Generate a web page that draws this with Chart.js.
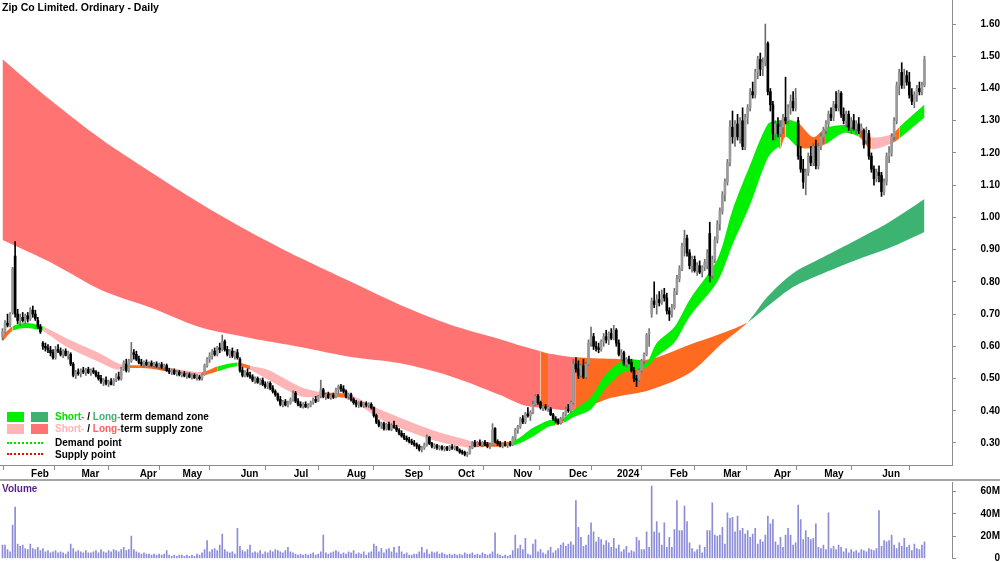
<!DOCTYPE html>
<html>
<head>
<meta charset="utf-8">
<script src="https://cdn.jsdelivr.net/npm/chart.js@4.4.1/dist/chart.umd.min.js"></script>
<style>
  body { margin: 0; background: #fff; }
  #wrap { position: relative; width: 1000px; height: 562px; overflow: hidden;
          font-family: Arial, "Liberation Sans", sans-serif; font-weight: bold; font-size: 10px; }
  canvas { position: absolute; left: 0; }
  #price { top: 0; }
  #vol { top: 480px; }
  .abs { position: absolute; line-height: 12px; white-space: nowrap; }
  .sw { position: absolute; width: 17px; height: 10px; }
  .dot { position: absolute; width: 36px; height: 0; }
  #sep { position: absolute; left: 0; top: 479px; width: 1000px; height: 2px; background: #a6a6a6; }
</style>
</head>
<body>
<div id="wrap">
  <canvas id="price" width="1000" height="480"></canvas>
  <canvas id="vol" width="1000" height="82"></canvas>
  <div id="sep"></div>
  <div class="abs" style="left:2px;top:1px;font-size:10.5px">Zip Co Limited. Ordinary - Daily</div>
  <div class="abs" style="left:2px;top:483px;color:#5a1e8c">Volume</div>

  <div class="sw" style="left:7px;top:412px;background:#00f000"></div>
  <div class="sw" style="left:31px;top:412px;background:#3cb371"></div>
  <div class="abs" style="left:55px;top:411px"><span style="color:#00dd00">Short-</span> / <span style="color:#3cb371">Long-</span>term demand zone</div>
  <div class="sw" style="left:7px;top:424px;background:#ffb5b5"></div>
  <div class="sw" style="left:31px;top:424px;background:#ff7373"></div>
  <div class="abs" style="left:55px;top:423px"><span style="color:#ffb5b5">Short-</span> / <span style="color:#ff6060">Long-</span>term supply zone</div>
  <div class="dot" style="left:7px;top:442px;border-top:2px dotted #00e000"></div>
  <div class="abs" style="left:55px;top:437px">Demand point</div>
  <div class="dot" style="left:7px;top:453px;border-top:2px dotted #ff0000"></div>
  <div class="abs" style="left:55px;top:449px">Supply point</div>
</div>
<script>
// daily bars, 16 Jan 2023 .. 27 Jun 2024 (one row per month)
const opens = [
  0.630,0.645,0.672,0.665,0.705,0.880,0.700,0.680,0.690,0.680,0.695,
  0.685,0.712,0.700,0.680,0.660,0.610,0.600,0.595,0.588,0.580,0.565,0.590,0.585,0.575,0.585,0.572,0.575,0.545,0.510,0.520,
  0.515,0.525,0.520,0.528,0.518,0.525,0.520,0.510,0.500,0.490,0.495,0.485,0.490,0.482,0.495,0.505,0.500,0.530,0.545,0.525,0.555,0.580,0.575,
  0.560,0.550,0.545,0.550,0.542,0.548,0.540,0.545,0.538,0.543,0.535,0.540,0.525,0.520,0.525,0.515,0.520,
  0.512,0.515,0.508,0.512,0.505,0.510,0.502,0.505,0.500,0.512,0.540,0.560,0.570,0.585,0.575,0.595,0.590,0.615,0.590,0.575,0.585,0.570,0.580,
  0.560,0.525,0.510,0.518,0.510,0.505,0.495,0.500,0.488,0.495,0.482,0.475,0.485,0.470,0.460,0.450,0.435,0.420,0.428,0.418,0.425,
  0.435,0.455,0.430,0.420,0.415,0.420,0.412,0.418,0.425,0.435,0.430,0.445,0.465,0.445,0.450,0.440,0.448,0.442,0.465,0.475,0.468,
  0.460,0.445,0.450,0.435,0.425,0.420,0.425,0.415,0.422,0.418,0.420,0.410,0.385,0.365,0.355,0.360,0.345,0.358,0.342,0.355,0.348,0.340,0.330,
  0.322,0.315,0.310,0.305,0.300,0.295,0.290,0.280,0.285,0.295,0.318,0.298,0.290,0.292,0.285,0.288,0.282,0.286,0.280,0.288,0.284,
  0.288,0.278,0.272,0.270,0.265,0.268,0.285,0.300,0.292,0.300,0.295,0.302,0.295,0.290,0.295,0.345,0.305,0.298,0.292,0.296,0.293,0.298,
  0.295,0.315,0.340,0.350,0.375,0.365,0.390,0.385,0.395,0.420,0.445,0.425,0.410,0.412,0.408,0.405,0.388,0.375,0.368,0.362,0.375,0.390,
  0.405,0.400,0.425,0.545,0.530,0.510,0.540,0.505,0.545,0.610,0.630,0.600,0.595,0.590,0.615,0.630,0.620,0.640,0.625,
  0.650,0.610,0.575,0.580,0.545,0.560,0.550,0.525,0.500,0.495,0.525,0.555,0.575,0.640,0.700,0.740,0.730,0.745,0.735,0.760,0.750,
  0.710,0.700,0.720,0.770,0.810,0.840,0.910,0.935,0.890,0.850,0.870,0.835,0.850,0.830,0.845,0.850,0.950,0.820,0.870,0.930,0.980,
  1.020,1.070,1.110,1.170,1.280,1.250,1.290,1.250,1.300,1.220,1.310,1.340,1.390,1.380,1.450,1.490,1.460,1.480,1.540,1.390,
  1.350,1.260,1.290,1.260,1.280,1.310,1.300,1.340,1.360,1.340,1.300,1.190,1.150,1.110,1.140,1.190,1.170,1.220,1.160,1.220,
  1.250,1.270,1.290,1.320,1.310,1.350,1.340,1.385,1.320,1.300,1.320,1.280,1.300,1.275,1.290,1.270,1.270,1.240,1.260,1.190,1.150,1.120,1.140,
  1.130,1.080,1.110,1.190,1.200,1.250,1.300,1.410,1.450,1.410,1.440,1.420,1.380,1.360,1.380,1.400,1.390,1.410
];
const highs = [
  0.655,0.680,0.700,0.705,0.845,0.925,0.715,0.700,0.705,0.700,0.705,
  0.720,0.725,0.712,0.690,0.668,0.615,0.610,0.605,0.600,0.590,0.600,0.605,0.595,0.590,0.592,0.585,0.580,0.550,0.525,0.530,
  0.530,0.535,0.532,0.535,0.530,0.533,0.525,0.520,0.510,0.500,0.505,0.495,0.500,0.500,0.515,0.520,0.535,0.555,0.560,0.560,0.612,0.590,0.585,
  0.570,0.560,0.555,0.558,0.552,0.555,0.550,0.552,0.548,0.550,0.545,0.545,0.532,0.530,0.530,0.525,0.525,
  0.520,0.522,0.518,0.518,0.515,0.515,0.512,0.510,0.515,0.545,0.565,0.580,0.590,0.595,0.600,0.610,0.635,0.620,0.600,0.590,0.595,0.585,0.590,
  0.565,0.535,0.525,0.530,0.520,0.512,0.505,0.505,0.500,0.502,0.490,0.490,0.490,0.478,0.465,0.455,0.445,0.432,0.435,0.430,0.440,
  0.462,0.460,0.438,0.428,0.425,0.428,0.422,0.430,0.440,0.445,0.448,0.495,0.470,0.455,0.458,0.452,0.455,0.470,0.480,0.482,0.478,
  0.465,0.455,0.455,0.440,0.432,0.428,0.430,0.425,0.428,0.425,0.425,0.412,0.390,0.372,0.365,0.365,0.362,0.365,0.360,0.368,0.355,0.345,0.338,
  0.330,0.322,0.318,0.312,0.308,0.300,0.295,0.290,0.300,0.325,0.320,0.302,0.298,0.296,0.292,0.292,0.290,0.290,0.292,0.295,0.292,
  0.290,0.282,0.278,0.275,0.272,0.290,0.305,0.308,0.305,0.310,0.305,0.308,0.302,0.298,0.360,0.348,0.310,0.305,0.300,0.305,0.300,0.305,
  0.320,0.345,0.355,0.380,0.385,0.395,0.410,0.400,0.430,0.450,0.450,0.430,0.418,0.420,0.415,0.410,0.392,0.382,0.375,0.380,0.395,0.412,
  0.420,0.430,0.560,0.565,0.555,0.545,0.560,0.550,0.620,0.660,0.640,0.615,0.610,0.620,0.640,0.650,0.645,0.655,0.665,
  0.655,0.620,0.590,0.585,0.565,0.570,0.560,0.535,0.510,0.530,0.560,0.580,0.640,0.655,0.750,0.800,0.760,0.770,0.775,0.780,0.765,
  0.720,0.730,0.780,0.820,0.850,0.920,0.960,0.945,0.900,0.880,0.880,0.860,0.865,0.850,0.870,0.900,0.985,0.880,0.940,0.990,1.030,
  1.080,1.120,1.180,1.300,1.330,1.300,1.320,1.310,1.340,1.320,1.350,1.400,1.420,1.460,1.500,1.510,1.495,1.600,1.545,1.400,
  1.360,1.300,1.310,1.300,1.320,1.435,1.350,1.380,1.390,1.400,1.310,1.220,1.180,1.150,1.200,1.220,1.230,1.240,1.230,1.260,
  1.280,1.300,1.330,1.340,1.360,1.390,1.395,1.390,1.340,1.330,1.330,1.310,1.320,1.300,1.310,1.290,1.275,1.280,1.270,1.200,1.160,1.150,1.160,
  1.140,1.120,1.200,1.220,1.260,1.310,1.420,1.460,1.480,1.460,1.455,1.450,1.400,1.390,1.410,1.420,1.420,1.500
];
const lows = [
  0.620,0.640,0.660,0.660,0.700,0.690,0.670,0.665,0.675,0.670,0.675,
  0.680,0.690,0.680,0.655,0.640,0.590,0.585,0.580,0.570,0.560,0.560,0.580,0.570,0.565,0.570,0.560,0.540,0.505,0.500,0.510,
  0.505,0.515,0.510,0.515,0.510,0.515,0.505,0.495,0.485,0.478,0.480,0.475,0.480,0.478,0.490,0.495,0.495,0.525,0.520,0.520,0.550,0.560,0.555,
  0.545,0.540,0.535,0.540,0.535,0.538,0.532,0.535,0.530,0.530,0.525,0.522,0.515,0.512,0.512,0.508,0.508,
  0.505,0.505,0.500,0.502,0.498,0.500,0.495,0.495,0.495,0.510,0.535,0.550,0.560,0.570,0.570,0.580,0.585,0.585,0.570,0.565,0.565,0.560,0.560,
  0.520,0.505,0.505,0.505,0.500,0.490,0.485,0.485,0.480,0.478,0.470,0.468,0.465,0.455,0.445,0.430,0.415,0.412,0.415,0.412,0.420,
  0.430,0.425,0.415,0.410,0.408,0.410,0.408,0.412,0.420,0.425,0.428,0.440,0.440,0.435,0.438,0.435,0.438,0.440,0.455,0.460,0.455,
  0.440,0.435,0.430,0.420,0.412,0.410,0.412,0.410,0.412,0.410,0.405,0.380,0.360,0.350,0.345,0.340,0.340,0.340,0.338,0.345,0.335,0.325,0.318,
  0.310,0.305,0.300,0.295,0.290,0.282,0.275,0.272,0.280,0.290,0.295,0.285,0.282,0.280,0.278,0.278,0.275,0.276,0.276,0.280,0.278,
  0.275,0.268,0.265,0.260,0.258,0.265,0.282,0.288,0.288,0.292,0.288,0.292,0.285,0.282,0.292,0.300,0.292,0.288,0.285,0.290,0.286,0.290,
  0.292,0.310,0.330,0.345,0.360,0.360,0.380,0.370,0.390,0.415,0.420,0.405,0.400,0.402,0.398,0.385,0.370,0.362,0.358,0.358,0.370,0.385,
  0.395,0.395,0.420,0.520,0.500,0.505,0.500,0.500,0.540,0.600,0.590,0.585,0.580,0.585,0.600,0.610,0.605,0.620,0.620,
  0.600,0.570,0.555,0.540,0.535,0.545,0.520,0.490,0.475,0.490,0.520,0.545,0.570,0.600,0.690,0.720,0.700,0.725,0.730,0.740,0.700,
  0.680,0.690,0.715,0.760,0.800,0.835,0.880,0.880,0.840,0.830,0.830,0.820,0.825,0.815,0.835,0.840,0.800,0.810,0.860,0.920,0.960,
  1.010,1.050,1.100,1.160,1.230,1.220,1.240,1.230,1.210,1.210,1.290,1.330,1.370,1.370,1.430,1.440,1.440,1.470,1.380,1.330,
  1.240,1.240,1.250,1.250,1.260,1.290,1.290,1.320,1.330,1.330,1.180,1.140,1.090,1.070,1.130,1.160,1.160,1.150,1.150,1.210,
  1.230,1.260,1.280,1.300,1.300,1.330,1.330,1.310,1.290,1.280,1.270,1.260,1.270,1.260,1.260,1.250,1.215,1.230,1.180,1.140,1.100,1.110,1.110,
  1.065,1.070,1.100,1.170,1.190,1.240,1.290,1.380,1.400,1.400,1.410,1.370,1.350,1.340,1.360,1.380,1.380,1.405
];
const closes = [
  0.645,0.672,0.665,0.700,0.840,0.700,0.680,0.690,0.680,0.695,0.685,
  0.715,0.700,0.685,0.660,0.645,0.600,0.595,0.590,0.580,0.565,0.590,0.585,0.575,0.585,0.572,0.580,0.545,0.510,0.520,0.515,
  0.525,0.520,0.528,0.518,0.525,0.520,0.510,0.500,0.490,0.495,0.485,0.490,0.482,0.495,0.510,0.500,0.530,0.550,0.525,0.555,0.580,0.575,0.560,
  0.550,0.545,0.550,0.542,0.548,0.540,0.545,0.538,0.543,0.535,0.540,0.525,0.520,0.525,0.515,0.520,0.512,
  0.515,0.508,0.512,0.505,0.510,0.502,0.508,0.500,0.512,0.540,0.560,0.570,0.585,0.575,0.595,0.590,0.615,0.590,0.575,0.585,0.570,0.580,0.565,
  0.525,0.510,0.520,0.510,0.505,0.495,0.500,0.488,0.495,0.482,0.475,0.485,0.470,0.460,0.450,0.435,0.420,0.428,0.418,0.425,0.435,
  0.455,0.430,0.420,0.415,0.420,0.412,0.418,0.425,0.435,0.430,0.445,0.465,0.445,0.450,0.440,0.448,0.442,0.465,0.475,0.468,0.460,
  0.445,0.450,0.435,0.425,0.420,0.425,0.415,0.422,0.418,0.420,0.410,0.385,0.365,0.355,0.360,0.345,0.358,0.342,0.355,0.348,0.340,0.330,0.322,
  0.315,0.310,0.305,0.300,0.295,0.290,0.280,0.285,0.295,0.318,0.298,0.290,0.292,0.285,0.288,0.282,0.286,0.280,0.288,0.284,0.288,
  0.278,0.272,0.270,0.265,0.268,0.285,0.300,0.292,0.300,0.295,0.302,0.295,0.290,0.295,0.340,0.305,0.298,0.292,0.296,0.293,0.298,0.295,
  0.315,0.340,0.350,0.375,0.365,0.390,0.385,0.395,0.420,0.445,0.425,0.410,0.412,0.408,0.410,0.388,0.375,0.368,0.362,0.375,0.390,0.405,
  0.400,0.425,0.545,0.530,0.510,0.540,0.505,0.545,0.610,0.630,0.600,0.595,0.590,0.615,0.630,0.620,0.640,0.625,0.650,
  0.610,0.575,0.580,0.545,0.560,0.550,0.525,0.500,0.495,0.525,0.555,0.575,0.635,0.645,0.740,0.730,0.745,0.735,0.760,0.750,0.710,
  0.700,0.720,0.770,0.810,0.840,0.910,0.935,0.890,0.850,0.870,0.835,0.850,0.830,0.845,0.860,0.890,0.820,0.870,0.930,0.980,1.020,
  1.070,1.110,1.170,1.280,1.250,1.290,1.250,1.300,1.220,1.310,1.340,1.390,1.380,1.450,1.490,1.460,1.480,1.500,1.390,1.350,
  1.260,1.290,1.260,1.280,1.310,1.300,1.340,1.360,1.340,1.370,1.190,1.150,1.110,1.140,1.190,1.170,1.220,1.160,1.220,1.250,
  1.270,1.290,1.320,1.310,1.350,1.340,1.385,1.320,1.300,1.320,1.280,1.300,1.275,1.290,1.270,1.280,1.225,1.260,1.190,1.150,1.120,1.140,1.130,
  1.080,1.110,1.190,1.200,1.250,1.300,1.410,1.450,1.410,1.440,1.420,1.380,1.360,1.380,1.400,1.390,1.410,1.490
];
// volume, millions
const volumes = [
  12,12,8,6,30,46,13,11,12,9,8,
  13,9,8,10,7,9,6,7,5,6,7,5,6,5,4,6,13,9,6,7,
  6,5,7,5,5,6,7,5,8,6,5,7,6,8,7,6,8,10,7,8,20,8,6,
  5,4,5,4,4,3,4,3,4,3,4,7,3,2,3,2,3,
  3,2,3,2,3,2,4,3,5,8,16,6,8,9,7,12,22,8,6,5,6,4,27,
  11,7,6,8,12,5,6,5,7,4,6,5,7,6,8,7,6,5,7,10,6,
  5,4,3,4,3,4,3,4,5,3,4,6,21,5,4,5,6,7,6,4,5,
  4,6,5,7,4,5,4,6,3,5,6,13,11,6,9,5,8,9,6,10,5,11,6,
  4,5,3,3,4,4,6,10,5,8,4,6,5,6,4,5,4,3,4,3,4,
  3,4,3,5,4,4,5,3,4,3,5,4,3,4,6,23,4,3,2,3,2,3,
  7,21,9,12,8,18,4,3,13,17,6,8,5,4,7,10,5,7,9,12,14,11,
  13,15,12,52,28,19,11,12,21,32,24,15,19,17,12,16,14,10,18,
  9,12,6,8,11,5,7,6,19,16,8,8,24,10,65,24,33,23,12,32,10,
  19,10,26,52,25,25,47,33,14,9,6,8,12,5,10,25,25,50,21,20,21,
  28,13,41,36,37,24,38,25,27,22,25,19,22,27,13,17,15,21,38,31,
  35,15,12,19,10,21,27,21,12,14,48,35,17,25,19,17,18,31,10,9,
  12,8,41,9,11,8,12,10,6,9,5,8,6,7,5,8,7,6,9,8,7,9,43,
  11,16,15,16,21,12,9,14,11,18,10,12,7,13,9,8,12,15
];

// month boundaries (bar index - 0.5) and their labels
const monthAt = [10.5,30.5,53.5,70.5,93.5,114.5,135.5,158.5,179.5,201.5,223.5,242.5,263.5,284.5,304.5,324.5,347.5];
const monthNames = ['Feb','Mar','Apr','May','Jun','Jul','Aug','Sep','Oct','Nov','Dec','2024','Feb','Mar','Apr','May','Jun'];
const priceTicks = [0.3,0.4,0.5,0.6,0.7,0.8,0.9,1.0,1.1,1.2,1.3,1.4,1.5,1.6];
const volTicks = [0,20,40,60];

// long-term zone (two averages), zone code per segment: s supply, o undecided, d demand
const ltX    = [0,19,39,58,78,98,118,138,157,177,197,206,213,216,227,241,256,272,285,295,303,313,325,338,351,365];
const ltA    = [1.491,1.364,1.243,1.144,1.045,0.955,0.874,0.800,0.730,0.668,0.622,0.600,0.585,0.578,0.566,0.561,0.560,0.605,0.641,0.675,0.725,0.784,0.827,0.868,0.905,0.955];
const ltB    = [0.930,0.861,0.775,0.722,0.660,0.626,0.598,0.567,0.548,0.508,0.449,0.418,0.409,0.407,0.402,0.440,0.464,0.517,0.610,0.675,0.755,0.827,0.877,0.930,0.985,1.057];
const ltZone = ['s','s','s','s','s','s','s','s','s','s','s','s','o','s','o','o','o','o','o','d','d','d','d','d','d','d'];

// short-term zone
const stX    = [0,4,9,14,16,25,38,45,48,58,65,79,85,93,98,105,118,126,137,150,170,184,186,202,210,216,219,222,226,233,239,246,252,255,259,266,272,283,289,296,303,307,308,310,315,321,326,333,339,344,352,355,365];
const stHi   = [0.632,0.662,0.672,0.667,0.662,0.626,0.580,0.550,0.543,0.540,0.534,0.520,0.537,0.550,0.540,0.527,0.474,0.458,0.450,0.402,0.340,0.309,0.304,0.306,0.347,0.370,0.374,0.378,0.402,0.443,0.515,0.557,0.557,0.549,0.610,0.660,0.744,0.870,1.023,1.163,1.290,1.300,1.302,1.305,1.293,1.249,1.278,1.287,1.280,1.249,1.258,1.280,1.350];
const stLo   = [0.615,0.648,0.657,0.652,0.648,0.600,0.552,0.528,0.532,0.531,0.522,0.510,0.522,0.538,0.527,0.497,0.445,0.442,0.437,0.372,0.310,0.286,0.288,0.292,0.320,0.350,0.356,0.362,0.380,0.405,0.472,0.520,0.527,0.534,0.568,0.612,0.692,0.800,0.915,1.040,1.185,1.218,1.212,1.250,1.218,1.215,1.228,1.262,1.250,1.212,1.230,1.245,1.310];
const stZone = ['o','d','d','d','s','s','s','s','o','o','s','o','d','o','s','s','s','o','s','s','s','s','o','d','d','d','o','d','d','d','d','d','d','d','d','d','d','d','d','d','d','d','o','d','o','o','d','d','o','s','o','d','d'];

const ltColors = { s: '#ff7373', o: '#ff6a21', d: '#3cb371' };
const stColors = { s: '#ffb5b5', o: '#ff6a21', d: '#00f000' };

const xMin = -0.99, xMax = 375.9;
const font = { family: 'Arial, "Liberation Sans", sans-serif', size: 10, weight: 'bold' };

const idx = closes.map((_, i) => i);
const isUp = idx.map(i => closes[i] >= opens[i]);

const band = (xs, ys) => xs.map((x, k) => ({ x: x, y: ys[k] }));

const bandLine = (xs, ys, order) => ({
    type: 'line',
    data: band(xs, ys),
    borderColor: 'rgba(0,0,0,0)',
    borderWidth: 0,
    pointRadius: 0,
    tension: 0.3,
    fill: false,
    order: order
});

const ltTop = bandLine(ltX, ltA, 4);
ltTop.fill = '+1';
ltTop.backgroundColor = ltColors.s;
ltTop.segment = { backgroundColor: c => ltColors[ltZone[c.p0DataIndex]] };

const stTop = bandLine(stX, stHi, 3);
stTop.fill = '+1';
stTop.backgroundColor = stColors.s;
stTop.segment = { backgroundColor: c => stColors[stZone[c.p0DataIndex]] };

new Chart(document.getElementById('price'), {
    type: 'bar',
    data: {
        datasets: [
            ltTop,
            bandLine(ltX, ltB, 4),
            stTop,
            bandLine(stX, stLo, 3),
            {
                data: idx.map(i => ({ x: i, y: [lows[i], highs[i]] })),
                backgroundColor: idx.map(i => isUp[i] ? '#707070' : '#000'),
                barThickness: 1,
                grouped: false,
                order: 2
            },
            {
                data: idx.map(i => ({ x: i, y: [opens[i], closes[i]] })),
                backgroundColor: idx.map(i => isUp[i] ? '#9a9a9a' : '#000'),
                barThickness: 2,
                minBarLength: 1,
                grouped: false,
                order: 1
            }
        ]
    },
    options: {
        responsive: false,
        animation: false,
        events: [],
        layout: { padding: 0 },
        plugins: { legend: { display: false }, tooltip: { enabled: false } },
        scales: {
            x: {
                type: 'linear', min: xMin, max: xMax, offset: false,
                grid: { drawOnChartArea: false, tickLength: 5, color: '#8c8c8c' },
                border: { color: '#8c8c8c' },
                afterBuildTicks: a => { a.ticks = monthAt.map(v => ({ value: v })); },
                afterFit: a => { a.height = 15; a.paddingLeft = 0; a.paddingRight = 0; },
                ticks: {
                    autoSkip: false, maxRotation: 0, align: 'start', labelOffset: 2, padding: -2,
                    color: '#000', font: font,
                    callback: (v, k) => monthNames[k]
                }
            },
            y: {
                type: 'linear', position: 'right', min: 0.2317, max: 1.6745,
                grid: { drawOnChartArea: false, tickLength: 4, color: '#8c8c8c' },
                border: { color: '#8c8c8c' },
                afterBuildTicks: a => { a.ticks = priceTicks.map(v => ({ value: v })); },
                afterFit: a => { a.width = 48; a.paddingTop = 0; a.paddingBottom = 0; },
                ticks: { crossAlign: 'far', padding: 22.5, color: '#000', font: font, callback: v => v.toFixed(2) }
            }
        }
    }
});

new Chart(document.getElementById('vol'), {
    type: 'bar',
    data: {
        datasets: [{
            data: idx.map(i => ({ x: i, y: volumes[i] })),
            backgroundColor: '#8c8cd9',
            barThickness: 1,
            grouped: false
        }]
    },
    options: {
        responsive: false,
        animation: false,
        events: [],
        layout: { padding: { top: 2, bottom: 3.5, left: 0, right: 0 } },
        plugins: { legend: { display: false }, tooltip: { enabled: false } },
        scales: {
            x: { type: 'linear', min: xMin, max: xMax, offset: false, display: false },
            y: {
                position: 'right', min: 0, max: 68.6,
                grid: { drawOnChartArea: false, tickLength: 4, color: '#8c8c8c' },
                border: { color: '#8c8c8c' },
                afterBuildTicks: a => { a.ticks = volTicks.map(v => ({ value: v })); },
                afterFit: a => { a.width = 48; a.paddingTop = 0; a.paddingBottom = 0; },
                ticks: { crossAlign: 'far', padding: 22.5, color: '#000', font: font, callback: v => v ? v + 'M' : '0' }
            }
        }
    }
});
</script>
</body>
</html>
